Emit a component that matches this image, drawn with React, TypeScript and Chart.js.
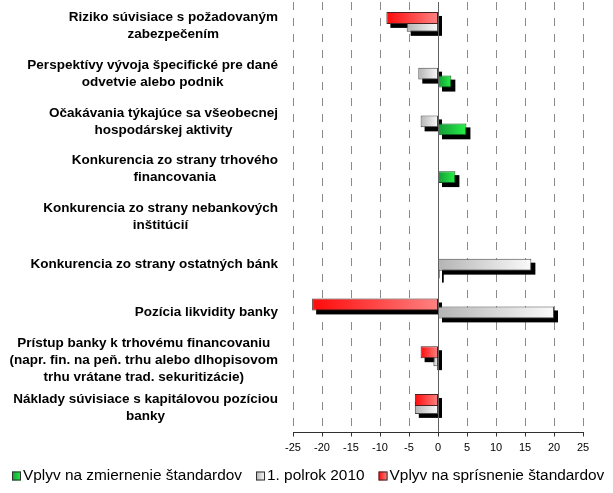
import React, { useEffect, useRef } from 'react';
import { Chart, registerables } from 'chart.js';

Chart.register(...registerables);

// ---- data ----
const categories: string[][] = [
  ['Riziko súvisiace s požadovaným', 'zabezpečením'],
  ['Perspektívy vývoja špecifické pre dané', 'odvetvie alebo podnik'],
  ['Očakávania týkajúce sa všeobecnej', 'hospodárskej aktivity'],
  ['Konkurencia zo strany trhového', 'financovania'],
  ['Konkurencia zo strany nebankových', 'inštitúcií'],
  ['Konkurencia zo strany ostatných bánk'],
  ['Pozícia likvidity banky'],
  ['Prístup banky k trhovému financovaniu', '(napr. fin. na peň. trhu alebo dlhopisovom', 'trhu vrátane trad. sekuritizácie)'],
  ['Náklady súvisiace s kapitálovou pozíciou', 'banky'],
];

const easingValues = [0, 2.3, 4.9, 3.0, 0, 0.3, 0, 0, 0];
const firstHalf2010Values = [-5.4, -3.4, -3.0, 0, 0, 16.1, 20.0, -0.8, -4.0];
const tighteningValues = [-8.9, 0, 0, 0, 0, 0, -21.7, -3.0, -4.0];

const seriesLabels = ['Vplyv na zmiernenie štandardov', '1. polrok 2010', 'Vplyv na sprísnenie štandardov'];

const xMin = -25;
const xMax = 25;
const xStep = 5;

// ---- styles ----
const FONT = '"Liberation Sans", Arial, Helvetica, sans-serif';
const styles = {
  green: { c0: '#169a38', c1: '#24f046', border: '#0b5a1c' },
  grey: { c0: '#b4b4b4', c1: '#fafafa', border: '#4a4a4a' },
  red: { c0: '#ff0a0a', c1: '#ff8282', border: '#4a2020' },
};

function gradientFill(st: { c0: string; c1: string }) {
  return (ctx: any) => {
    const chart = ctx.chart;
    const scales = chart.scales;
    if (ctx.type !== 'data' || !scales || !scales.x) return st.c0;
    const v = ctx.raw as number;
    const p0 = scales.x.getPixelForValue(0);
    const p1 = scales.x.getPixelForValue(v);
    if (!Number.isFinite(p0) || !Number.isFinite(p1)) return st.c0;
    const l = Math.min(p0, p1);
    const r = Math.max(p0, p1);
    if (r - l < 1) return st.c0;
    const g = chart.ctx.createLinearGradient(l, 0, r, 0);
    g.addColorStop(0, st.c0);
    g.addColorStop(1, st.c1);
    return g;
  };
}

const backdropPlugin = {
  id: 'backdrop',
  beforeDatasetsDraw(chart: any) {
    const { ctx, chartArea, scales } = chart;
    const x = scales.x;
    ctx.save();
    // dashed grid lines
    ctx.strokeStyle = '#8c8c8c';
    ctx.lineWidth = 1;
    ctx.setLineDash([8, 8]);
    for (let v = xMin; v <= xMax; v += xStep) {
      if (v === 0) continue;
      const px = Math.round(x.getPixelForValue(v)) + 0.5;
      ctx.beginPath();
      ctx.moveTo(px, chartArea.top);
      ctx.lineTo(px, chartArea.bottom);
      ctx.stroke();
    }
    ctx.setLineDash([]);
    // shadows
    chart.getSortedVisibleDatasetMetas().forEach((meta: any) => {
      meta.data.forEach((el: any) => {
        const p = el.getProps(['x', 'y', 'base', 'height'], true);
        const l = Math.min(p.x, p.base);
        const r = Math.max(p.x, p.base);
        if (!(r - l >= 0.5)) return;
        ctx.fillStyle = '#000';
        ctx.fillRect(l + 4, p.y - p.height / 2 + 4, r - l, p.height);
      });
    });
    ctx.restore();
  },
  afterDatasetsDraw(chart: any) {
    const { ctx, chartArea, scales } = chart;
    const x = scales.x;
    ctx.save();
    // zero line
    const z = Math.round(x.getPixelForValue(0)) + 0.5;
    ctx.strokeStyle = '#606060';
    ctx.lineWidth = 1;
    ctx.beginPath();
    ctx.moveTo(z, chartArea.top);
    ctx.lineTo(z, chartArea.bottom);
    ctx.stroke();
    // bottom axis + tick marks
    const yb = Math.round(chartArea.bottom) + 0.5;
    ctx.strokeStyle = '#303030';
    ctx.beginPath();
    ctx.moveTo(Math.round(x.getPixelForValue(xMin)), yb);
    ctx.lineTo(Math.round(x.getPixelForValue(xMax)) + 1, yb);
    for (let v = xMin; v <= xMax; v += xStep) {
      const px = Math.round(x.getPixelForValue(v)) + 0.5;
      ctx.moveTo(px, yb);
      ctx.lineTo(px, yb + 4);
    }
    ctx.stroke();
    ctx.restore();
  },
  afterDraw(chart: any) {
    const { ctx, chartArea, scales } = chart;
    const y = scales.y;
    ctx.save();
    // category labels: multi-line, centered lines, block right-aligned
    ctx.font = 'bold 13.5px ' + FONT;
    ctx.fillStyle = '#000';
    ctx.textAlign = 'center';
    ctx.textBaseline = 'middle';
    const rightEdge = chartArea.left - 15;
    const lineH = 17;
    (chart.data.labels as string[][]).forEach((lines, i) => {
      const cy = y.getPixelForValue(i);
      let maxW = 0;
      lines.forEach((t) => (maxW = Math.max(maxW, ctx.measureText(t).width)));
      const cx = rightEdge - maxW / 2;
      const y0 = cy - ((lines.length - 1) * lineH) / 2;
      lines.forEach((t, k) => ctx.fillText(t, cx, y0 + k * lineH));
    });

    // legend
    const order = [2, 1, 0]; // datasets: red, grey, green -> legend green, grey, red
    const legendStyles = [styles.red, styles.grey, styles.green];
    ctx.font = '15.4px ' + FONT;
    ctx.textAlign = 'left';
    ctx.textBaseline = 'middle';
    const ly = 476;
    const box = 9;
    const gapBoxText = 2;
    const gapItems = 14;
    let lx = 12;
    order.forEach((di) => {
      const ds = chart.data.datasets[di];
      const st = legendStyles[di];
      const g = ctx.createLinearGradient(lx, 0, lx + box, 0);
      g.addColorStop(0, st.c0);
      g.addColorStop(1, st.c1);
      ctx.fillStyle = g;
      ctx.fillRect(lx, ly - box / 2, box, box);
      ctx.strokeStyle = '#303030';
      ctx.lineWidth = 1;
      ctx.strokeRect(lx + 0.5, ly - box / 2 + 0.5, box - 1, box - 1);
      ctx.fillStyle = '#000';
      const tx = lx + box + gapBoxText;
      ctx.fillText(ds.label, tx, ly);
      lx = tx + ctx.measureText(ds.label).width + gapItems;
    });
    ctx.restore();
  },
};

export default function App() {
  const canvasRef = useRef<HTMLCanvasElement | null>(null);

  useEffect(() => {
    document.body.style.margin = '0';
    const canvas = canvasRef.current;
    if (!canvas) return;
    const chart = new Chart(canvas, {
      type: 'bar',
      data: {
        labels: categories,
        datasets: [
          {
            label: seriesLabels[2],
            data: tighteningValues,
            backgroundColor: gradientFill(styles.red),
            borderColor: styles.red.border,
            borderWidth: 1,
            borderSkipped: false,
          },
          {
            label: seriesLabels[1],
            data: firstHalf2010Values,
            backgroundColor: gradientFill(styles.grey),
            borderColor: styles.grey.border,
            borderWidth: 1,
            borderSkipped: false,
          },
          {
            label: seriesLabels[0],
            data: easingValues,
            backgroundColor: gradientFill(styles.green),
            borderColor: styles.green.border,
            borderWidth: 1,
            borderSkipped: false,
          },
        ],
      },
      options: {
        indexAxis: 'y',
        responsive: false,
        animation: false,
        devicePixelRatio: 1,
        categoryPercentage: 0.5,
        barPercentage: 1.5,
        layout: { padding: { left: 293, right: 30, top: 2, bottom: 28 } },
        plugins: {
          legend: { display: false },
          tooltip: { enabled: false },
        },
        scales: {
          y: {
            type: 'category',
            display: false,
          },
          x: {
            type: 'linear',
            min: xMin,
            max: xMax,
            grid: { display: false, drawTicks: false },
            border: { display: false },
            ticks: {
              stepSize: xStep,
              padding: 10,
              color: '#000',
              font: { family: FONT, size: 11 },
            },
          },
        },
      } as any,
      plugins: [backdropPlugin],
    });
    return () => chart.destroy();
  }, []);

  return (
    <div style={{ position: 'absolute', left: 0, top: 0, width: 613, height: 493, background: '#fff' }}>
      <canvas ref={canvasRef} width={613} height={493} style={{ display: 'block' }} />
    </div>
  );
}
